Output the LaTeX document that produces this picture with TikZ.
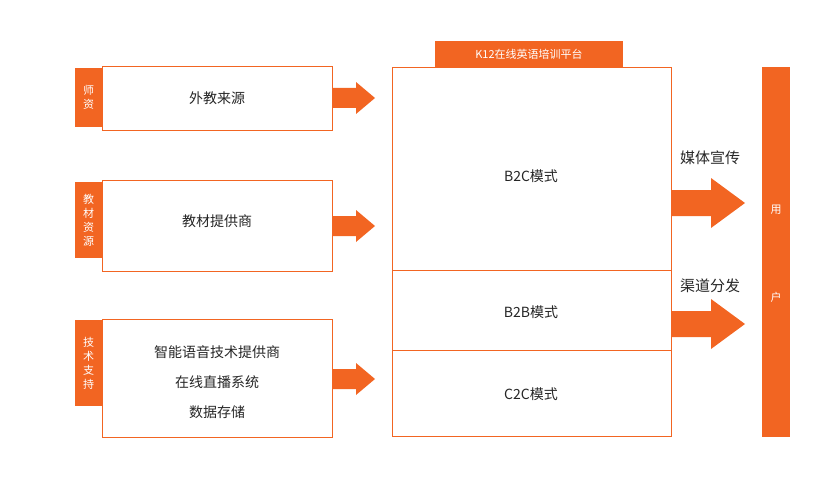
\documentclass[tikz,border=0pt]{standalone}
\usepackage{fontspec}
\setmainfont{Noto Sans CJK SC}
\definecolor{og}{HTML}{F26522}
\newcommand\blkarrow[6]{% x0 x1 x2 yc shafthalf headhalf
  \fill[og] (#1,#4-#5) -- (#2,#4-#5) -- (#2,#4-#6) -- (#3,#4) -- (#2,#4+#6) -- (#2,#4+#5) -- (#1,#4+#5) -- cycle;}
\begin{document}
\begin{tikzpicture}[x=1pt,y=-1pt,
  tab/.style={fill=og,draw=none,text=white,font=\fontsize{11}{14}\selectfont,align=center},
  bx/.style={draw=og,line width=0.8pt,fill=white},
  lbl/.style={font=\fontsize{14}{16}\selectfont,text=black!85}]
\useasboundingbox (0,0) rectangle (830,500);
% left tabs
\fill[og] (75,68) rectangle (102,127);
\node[tab] (t1) at (88.5,97.5) {师\\资};
\fill[og] (75,182) rectangle (102,258);
\node[tab] (t2) at (88.5,220) {教\\材\\资\\源};
\fill[og] (75,320) rectangle (102,406);
\node[tab] (t3) at (88.5,363) {技\\术\\支\\持};
% left boxes
\draw[bx] (102,66) rectangle (332,130);
\node[lbl] (a1) at (217,98) {外教来源};
\draw[bx] (102,180) rectangle (332,271);
\node[lbl] (a2) at (217,221) {教材提供商};
\draw[bx] (102,319) rectangle (332,437);
\node[lbl] (a3) at (217,352) {智能语音技术提供商};
\node[lbl] (a4) at (217,382) {在线直播系统};
\node[lbl] (a5) at (217,412) {数据存储};
% arrows
\blkarrow{333}{356}{375}{98}{10}{16}
\blkarrow{333}{356}{375}{226}{10}{16}
\blkarrow{333}{356}{375}{379}{10}{16}
% platform
\fill[og] (435,41) rectangle (623,67);
\node[tab] (pt) at (529,54) {K12在线英语培训平台};
\draw[bx] (392,67) rectangle (671,436);
\draw[og,line width=0.8pt] (392,270) -- (671,270);
\draw[og,line width=0.8pt] (392,350) -- (671,350);
\node[lbl] (b1) at (531,176) {B2C模式};
\node[lbl] (b2) at (531,312) {B2B模式};
\node[lbl] (b3) at (531,394) {C2C模式};
% right arrows
\blkarrow{672}{711}{745}{203}{13}{25}
\blkarrow{672}{711}{745}{324}{13}{25}
\node[lbl,font=\fontsize{15}{17}\selectfont] (m1) at (710,158) {媒体宣传};
\node[lbl,font=\fontsize{15}{17}\selectfont] (m2) at (710,286) {渠道分发};
% user bar
\fill[og] (762,67) rectangle (790,437);
\node[tab] (u1) at (776,210) {用};
\node[tab] (u2) at (776,297) {户};
\end{tikzpicture}
\end{document}
